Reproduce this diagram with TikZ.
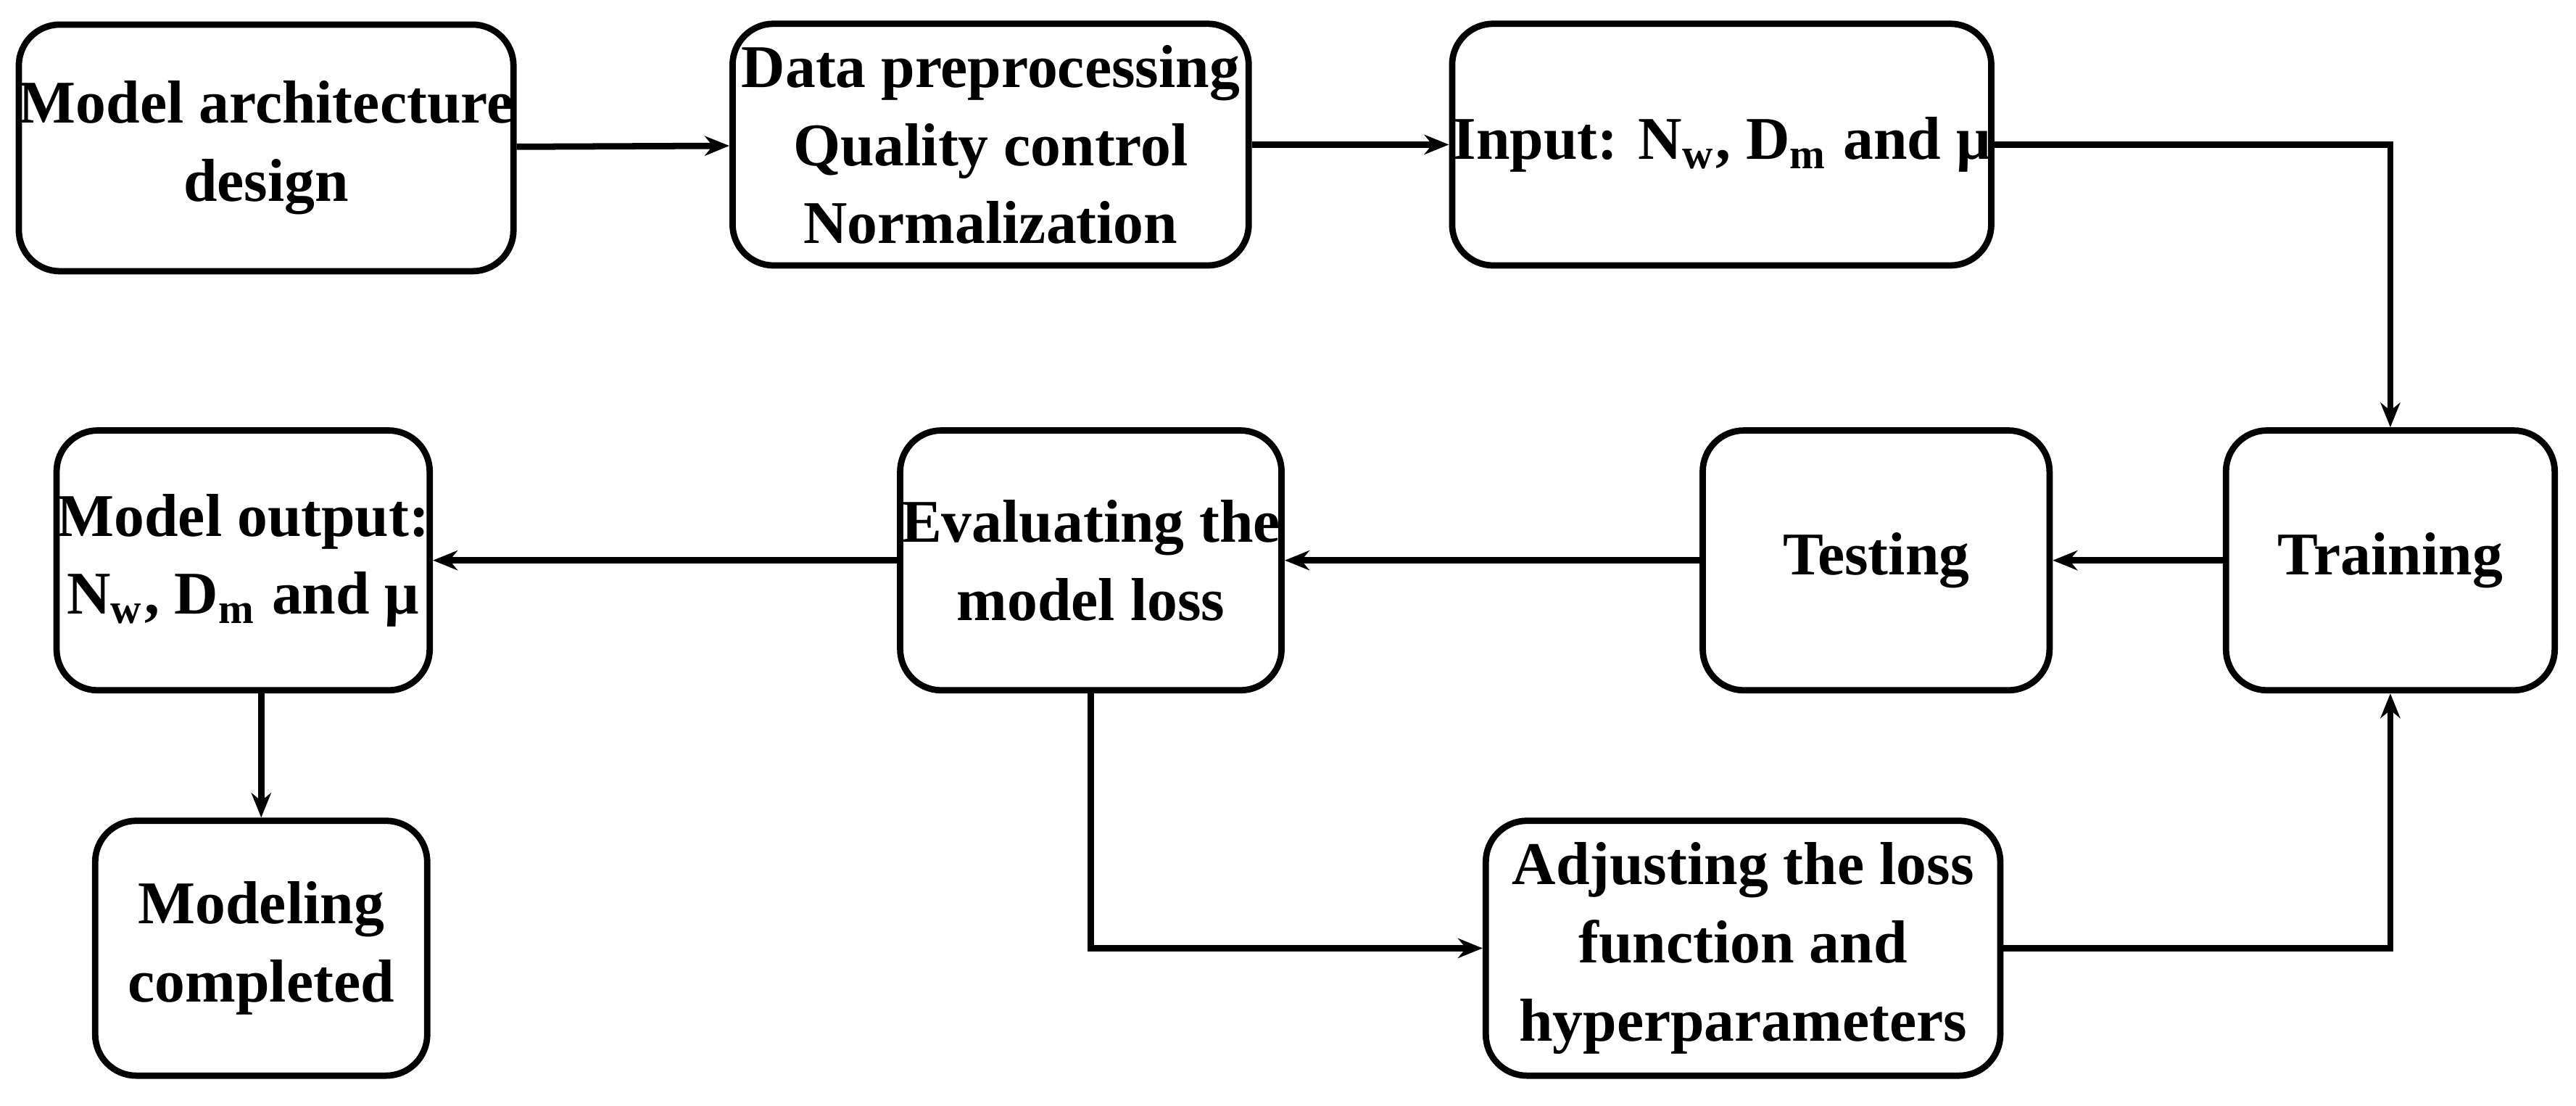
\documentclass[tikz,border=0pt]{standalone}
\usepackage{fontspec}
\setmainfont{Liberation Serif}
\usetikzlibrary{arrows.meta}
\begin{document}
\begin{tikzpicture}[x=0.01cm,y=-0.01cm,
  box/.style={draw,line width=1.1pt,rounded corners=0.25cm,align=center,inner sep=0pt,font=\bfseries\fontsize{10.5}{13.5}\selectfont},
  arr/.style={line width=1.1pt,-{Stealth[length=0.15cm,width=0.12cm]}}]
\useasboundingbox (0,0) rectangle (1568,673);
\node[box,minimum width=3cm,minimum height=1.5cm] (a) at (162,90) {Model architecture\\design};
\node[box,minimum width=3.14cm,minimum height=1.47cm] (b) at (603,88) {Data preprocessing\\Quality control\\Normalization};
\node[box,minimum width=3.28cm,minimum height=1.47cm] (c) at (1048,88) {Input: N\textsubscript{w}, D\textsubscript{m} and μ};
\node[box,minimum width=2cm,minimum height=1.58cm] (tr) at (1455,341) {Training};
\node[box,minimum width=2.11cm,minimum height=1.58cm] (te) at (1142,341) {Testing};
\node[box,minimum width=2.32cm,minimum height=1.58cm] (ev) at (664,341) {Evaluating the\\model loss};
\node[box,minimum width=2.27cm,minimum height=1.58cm] (out) at (148,341) {Model output:\\N\textsubscript{w}, D\textsubscript{m} and μ};
\node[box,minimum width=2.02cm,minimum height=1.55cm] (mc) at (159,577) {Modeling\\completed};
\node[box,minimum width=3.13cm,minimum height=1.55cm] (ad) at (1061,577) {Adjusting the loss\\function and\\hyperparameters};
\draw[arr] (a) -- (b);
\draw[arr] (b) -- (c);
\draw[arr] (c.east) -| (tr.north);
\draw[arr] (tr) -- (te);
\draw[arr] (te) -- (ev);
\draw[arr] (ev) -- (out);
\draw[arr] (out.south -| mc) -- (mc.north);
\draw[arr] (ev.south) |- (ad.west);
\draw[arr] (ad.east) -| (tr.south);
\end{tikzpicture}
\end{document}
